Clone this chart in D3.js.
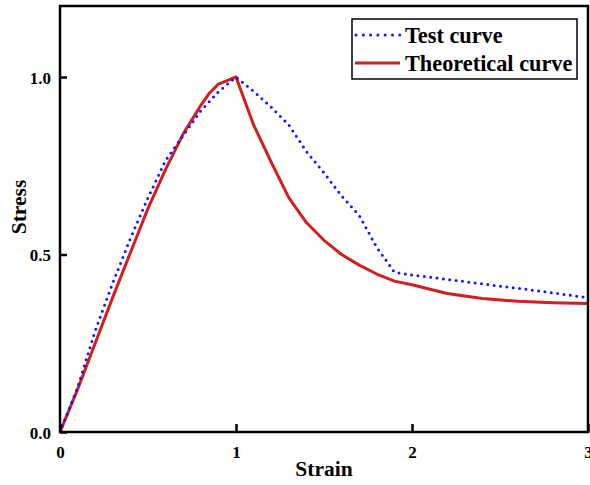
<!DOCTYPE html>
<html>
<head>
<meta charset="utf-8">
<script src="https://cdn.jsdelivr.net/npm/d3@7"></script>
<style>
  body { margin: 0; background: #fff; }
  svg text { font-family: "Liberation Serif", "Times New Roman", serif; font-weight: bold; fill: #000; }
</style>
</head>
<body>
<div id="canvas"></div>
<script>
// data
var testStrain   = [0, 0.1, 0.2, 0.3, 0.4, 0.5, 0.6, 0.7, 0.8, 0.9, 1.0, 1.1, 1.2, 1.3, 1.4, 1.5, 1.6, 1.7, 1.8, 1.9, 2.0, 2.2, 2.4, 2.6, 2.8, 3.0];
var testStress   = [0, 0.125, 0.285, 0.42, 0.545, 0.66, 0.765, 0.835, 0.905, 0.958, 1.0, 0.96, 0.915, 0.865, 0.79, 0.73, 0.665, 0.61, 0.52, 0.45, 0.442, 0.43, 0.417, 0.405, 0.392, 0.378];
var theoStrain   = [0, 0.1, 0.2, 0.3, 0.4, 0.5, 0.6, 0.7, 0.8, 0.85, 0.9, 1.0, 1.1, 1.2, 1.3, 1.4, 1.5, 1.6, 1.7, 1.8, 1.9, 2.0, 2.2, 2.4, 2.6, 2.8, 3.0];
var theoStress   = [0, 0.12, 0.25, 0.38, 0.505, 0.63, 0.74, 0.84, 0.92, 0.955, 0.98, 1.0, 0.865, 0.76, 0.66, 0.59, 0.54, 0.5, 0.47, 0.445, 0.425, 0.415, 0.39, 0.376, 0.368, 0.364, 0.362];
var xTicks = [0, 1, 2, 3];
var yTicks = [0, 0.5, 1.0];
var seriesNames = ["Test curve", "Theoretical curve"];

var W = 590, H = 485;
var m = {t:6, r:2, b:53, l:60};

var svg = d3.select('#canvas').append('svg')
    .attr('width', W).attr('height', H);

var x = d3.scaleLinear().domain([0, 3]).range([m.l, 588]);
var y = d3.scaleLinear().domain([0, 1.2]).range([432, m.t]);

var line = d3.line().x(function(d){ return x(d[0]); }).y(function(d){ return y(d[1]); });

var testPts = testStrain.map(function(s, i){ return [s, testStress[i]]; });
var theoPts = theoStrain.map(function(s, i){ return [s, theoStress[i]]; });

svg.append('clipPath').attr('id', 'clip')
    .append('rect').attr('x', x(0)).attr('y', y(1.2)).attr('width', x(3) - x(0) + 2).attr('height', y(0) - y(1.2));

var plot = svg.append('g').attr('clip-path', 'url(#clip)');

plot.append('path').datum(theoPts)
    .attr('d', line)
    .attr('fill', 'none')
    .attr('stroke', '#d11f1f')
    .attr('stroke-width', 3)
    .attr('stroke-linejoin', 'round');

plot.append('path').datum(testPts)
    .attr('d', line)
    .attr('fill', 'none')
    .attr('stroke', '#1414ff')
    .attr('stroke-width', 3)
    .attr('stroke-linecap', 'round')
    .attr('stroke-dasharray', '0,6.4');

// frame
svg.append('rect')
    .attr('x', x(0)).attr('y', y(1.2))
    .attr('width', x(3) - x(0)).attr('height', y(0) - y(1.2))
    .attr('fill', 'none').attr('stroke', '#000').attr('stroke-width', 2.5);

// axes with inward ticks
var xAxis = d3.axisBottom(x).tickValues(xTicks).tickFormat(d3.format('d'))
    .tickSizeInner(-8).tickSizeOuter(0).tickPadding(14);
var gx = svg.append('g').attr('transform', 'translate(0,' + y(0) + ')').call(xAxis);
gx.select('.domain').remove();
gx.selectAll('line').attr('stroke', '#000').attr('stroke-width', 2.5);
gx.selectAll('text').style('font-size', '17px').attr('font-family', null);

var yAxis = d3.axisLeft(y).tickValues(yTicks).tickFormat(d3.format('.1f'))
    .tickSizeInner(-7).tickSizeOuter(0).tickPadding(9);
var gy = svg.append('g').attr('transform', 'translate(' + x(0) + ',0)').call(yAxis);
gy.select('.domain').remove();
gy.selectAll('line').attr('stroke', '#000').attr('stroke-width', 2.5);
gy.selectAll('text').style('font-size', '17px').attr('font-family', null).attr('dy', '0.36em');

// axis titles
svg.append('text')
    .attr('x', (x(0) + x(3)) / 2).attr('y', 476)
    .attr('text-anchor', 'middle')
    .style('font-size', '21.5px')
    .text('Strain');

svg.append('text')
    .attr('transform', 'translate(26,207) rotate(-90)')
    .attr('text-anchor', 'middle')
    .style('font-size', '21.5px')
    .text('Stress');

// legend
var lg = svg.append('g');
lg.append('rect')
    .attr('x', 352).attr('y', 19).attr('width', 225).attr('height', 60)
    .attr('fill', '#fff').attr('stroke', '#000').attr('stroke-width', 1.5);

lg.append('line')
    .attr('x1', 356).attr('x2', 400).attr('y1', 35).attr('y2', 35)
    .attr('stroke', '#1414ff').attr('stroke-width', 3)
    .attr('stroke-linecap', 'round').attr('stroke-dasharray', '0,7.3');
lg.append('line')
    .attr('x1', 355).attr('x2', 400).attr('y1', 63).attr('y2', 63)
    .attr('stroke', '#d11f1f').attr('stroke-width', 3);

lg.selectAll('.lbl').data(seriesNames).enter()
    .append('text').attr('class', 'lbl')
    .attr('x', 405)
    .attr('y', function(d, i){ return 43 + i * 28; })
    .style('font-size', '22.3px')
    .text(function(d){ return d; });
</script>
</body>
</html>
